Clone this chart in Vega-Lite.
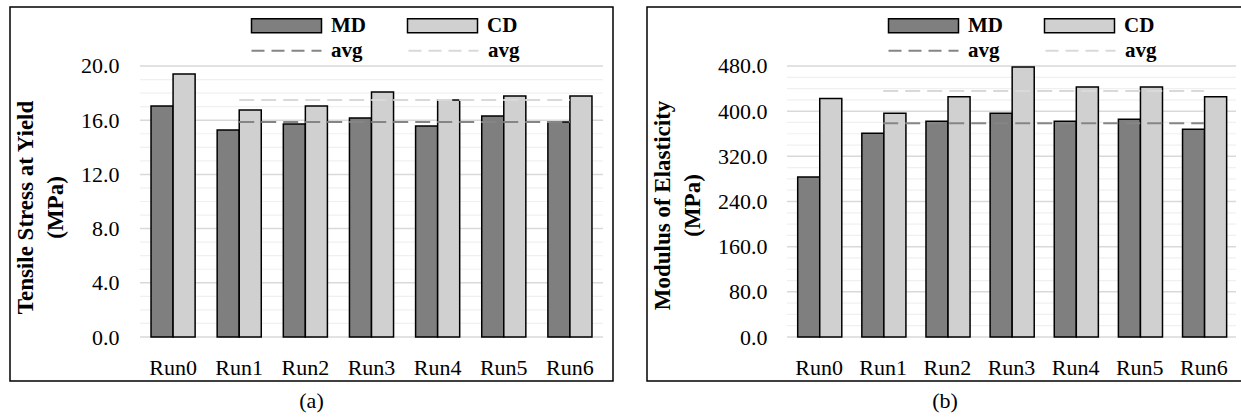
{
  "$schema": "https://vega.github.io/schema/vega-lite/v6.json",
  "padding": {"left": 9, "top": 6, "right": 0, "bottom": 0},
  "background": "white",
  "config": {
    "font": "Liberation Serif",
    "view": {"stroke": "black", "strokeWidth": 1.5, "fill": "white"},
    "concat": {"spacing": 32},
    "axis": {"labelFont": "Liberation Serif", "labelFontSize": 22, "labelColor": "black", "titleFont": "Liberation Serif", "titleFontSize": 23, "titleFontWeight": "bold", "titleColor": "black", "domain": false, "ticks": false, "tickSize": 0, "grid": false},
    "legend": {
      "title": null, "orient": "none", "direction": "horizontal", "padding": 0, "legendX": 266,
      "labelFont": "Liberation Serif", "labelFontSize": 21, "labelFontWeight": "bold", "labelColor": "black", "labelOffset": 34, "symbolSize": 196, "symbolOpacity": 1
    },
    "title": {"font": "Liberation Serif", "fontSize": 22, "fontWeight": "normal", "color": "black"}
  },
  "datasets": {
    "gridA": [
      {"value": 0, "kind": "major"}, {"value": 1, "kind": "minor"}, {"value": 2, "kind": "minor"}, {"value": 3, "kind": "minor"},
      {"value": 4, "kind": "major"}, {"value": 5, "kind": "minor"}, {"value": 6, "kind": "minor"}, {"value": 7, "kind": "minor"},
      {"value": 8, "kind": "major"}, {"value": 9, "kind": "minor"}, {"value": 10, "kind": "minor"}, {"value": 11, "kind": "minor"},
      {"value": 12, "kind": "major"}, {"value": 13, "kind": "minor"}, {"value": 14, "kind": "minor"}, {"value": 15, "kind": "minor"},
      {"value": 16, "kind": "major"}, {"value": 17, "kind": "minor"}, {"value": 18, "kind": "minor"}, {"value": 19, "kind": "minor"},
      {"value": 20, "kind": "major"}
    ],
    "gridB": [
      {"value": 0, "kind": "major"}, {"value": 20, "kind": "minor"}, {"value": 40, "kind": "minor"}, {"value": 60, "kind": "minor"},
      {"value": 80, "kind": "major"}, {"value": 100, "kind": "minor"}, {"value": 120, "kind": "minor"}, {"value": 140, "kind": "minor"},
      {"value": 160, "kind": "major"}, {"value": 180, "kind": "minor"}, {"value": 200, "kind": "minor"}, {"value": 220, "kind": "minor"},
      {"value": 240, "kind": "major"}, {"value": 260, "kind": "minor"}, {"value": 280, "kind": "minor"}, {"value": 300, "kind": "minor"},
      {"value": 320, "kind": "major"}, {"value": 340, "kind": "minor"}, {"value": 360, "kind": "minor"}, {"value": 380, "kind": "minor"},
      {"value": 400, "kind": "major"}, {"value": 420, "kind": "minor"}, {"value": 440, "kind": "minor"}, {"value": 460, "kind": "minor"},
      {"value": 480, "kind": "major"}
    ],
    "barsA": [
      {"run": "Run0", "series": "MD", "value": 17.05}, {"run": "Run0", "series": "CD", "value": 19.41},
      {"run": "Run1", "series": "MD", "value": 15.28}, {"run": "Run1", "series": "CD", "value": 16.75},
      {"run": "Run2", "series": "MD", "value": 15.72}, {"run": "Run2", "series": "CD", "value": 17.05},
      {"run": "Run3", "series": "MD", "value": 16.16}, {"run": "Run3", "series": "CD", "value": 18.08},
      {"run": "Run4", "series": "MD", "value": 15.57}, {"run": "Run4", "series": "CD", "value": 17.49},
      {"run": "Run5", "series": "MD", "value": 16.31}, {"run": "Run5", "series": "CD", "value": 17.79},
      {"run": "Run6", "series": "MD", "value": 15.87}, {"run": "Run6", "series": "CD", "value": 17.79}
    ],
    "avgA": [
      {"run": "Run1", "series": "MD avg", "value": 15.87}, {"run": "Run6", "series": "MD avg", "value": 15.87},
      {"run": "Run1", "series": "CD avg", "value": 17.49}, {"run": "Run6", "series": "CD avg", "value": 17.49}
    ],
    "barsB": [
      {"run": "Run0", "series": "MD", "value": 283.2}, {"run": "Run0", "series": "CD", "value": 422.5},
      {"run": "Run1", "series": "MD", "value": 360.9}, {"run": "Run1", "series": "CD", "value": 396.4},
      {"run": "Run2", "series": "MD", "value": 382.2}, {"run": "Run2", "series": "CD", "value": 425.5},
      {"run": "Run3", "series": "MD", "value": 396.4}, {"run": "Run3", "series": "CD", "value": 478.2},
      {"run": "Run4", "series": "MD", "value": 382.2}, {"run": "Run4", "series": "CD", "value": 442.7},
      {"run": "Run5", "series": "MD", "value": 385.8}, {"run": "Run5", "series": "CD", "value": 442.7},
      {"run": "Run6", "series": "MD", "value": 368.0}, {"run": "Run6", "series": "CD", "value": 425.5}
    ],
    "avgB": [
      {"run": "Run1", "series": "MD avg", "value": 378.7}, {"run": "Run6", "series": "MD avg", "value": 378.7},
      {"run": "Run1", "series": "CD avg", "value": 435.6}, {"run": "Run6", "series": "CD avg", "value": 435.6}
    ]
  },
  "resolve": {"scale": {"fill": "independent", "stroke": "independent"}, "legend": {"fill": "independent", "stroke": "independent"}},
  "hconcat": [
    {
      "width": 603, "height": 374,
      "title": {"text": "(a)", "orient": "bottom", "offset": 10, "anchor": "middle"},
      "encoding": {
        "y": {"field": "value", "type": "quantitative",
          "scale": {"domain": [-3.247, 24.354], "nice": false, "zero": false},
          "axis": {"values": [0, 4, 8, 12, 16, 20], "format": ".1f", "offset": -130, "labelPadding": 21,
            "title": ["Tensile Stress at Yield", "(MPa)"], "titlePadding": 13, "titleY": 200, "titleLineHeight": 30}}
      },
      "layer": [
        {
          "data": {"name": "gridA"},
          "mark": {"type": "rule"},
          "encoding": {
            "x": {"datum": 0, "type": "quantitative", "scale": {"domain": [-0.2808, 1.0216], "nice": false, "zero": false}, "axis": null},
            "x2": {"datum": 1},
            "color": {"condition": {"test": "datum.kind == 'major'", "value": "#d9d9d9"}, "value": "#f0f0f0"},
            "strokeWidth": {"condition": {"test": "datum.kind == 'major'", "value": 1.5}, "value": 1.2}
          }
        },
        {
          "encoding": {
            "x": {"field": "run", "type": "nominal",
              "scale": {"range": [130, 593], "paddingInner": 0.3333, "paddingOuter": 0.1667},
              "axis": {"offset": -44, "labelPadding": 20, "labelAngle": 0, "title": null}}
          },
          "layer": [
            {
              "data": {"name": "barsA"},
              "mark": {"type": "bar", "stroke": "black", "strokeWidth": 1.5},
              "encoding": {
                "y2": {"datum": 0},
                "xOffset": {"field": "series", "type": "nominal", "scale": {"domain": ["MD", "CD"], "paddingInner": 0, "paddingOuter": 0}},
                "fill": {"field": "series", "type": "nominal",
                  "scale": {"domain": ["MD", "CD"], "range": ["#7f7f7f", "#d0d0d0"]},
                  "legend": {"legendY": 8, "columnPadding": 38, "symbolType": "M-5,-1H5V1H-5Z", "symbolStrokeColor": "black", "symbolStrokeWidth": 1.5}}
              }
            },
            {
              "data": {"name": "avgA"},
              "mark": {"type": "line", "strokeDash": [15, 7], "strokeWidth": 2},
              "encoding": {
                "stroke": {"field": "series", "type": "nominal",
                  "scale": {"domain": ["MD avg", "CD avg"], "range": ["#858585", "#d9d9d9"]},
                  "legend": {"legendY": 33, "columnPadding": 41, "symbolType": "M-5,0H5", "symbolDash": [13, 7], "symbolStrokeWidth": 2, "labelExpr": "'avg'"}}
              }
            }
          ]
        }
      ],
      "resolve": {"scale": {"x": "independent"}}
    },
    {
      "width": 596, "height": 374,
      "title": {"text": "(b)", "orient": "bottom", "offset": 10, "anchor": "middle"},
      "encoding": {
        "y": {"field": "value", "type": "quantitative",
          "scale": {"domain": [-77.93, 584.5], "nice": false, "zero": false},
          "axis": {"values": [0, 80, 160, 240, 320, 400, 480], "format": ".1f", "offset": -140, "labelPadding": 20,
            "title": ["Modulus of Elasticity", "(MPa)"], "titlePadding": 13, "titleY": 198, "titleLineHeight": 30}}
      },
      "layer": [
        {
          "data": {"name": "gridB"},
          "mark": {"type": "rule"},
          "encoding": {
            "x": {"datum": 0, "type": "quantitative", "scale": {"domain": [-0.3118, 1.0156], "nice": false, "zero": false}, "axis": null},
            "x2": {"datum": 1},
            "color": {"condition": {"test": "datum.kind == 'major'", "value": "#d9d9d9"}, "value": "#f0f0f0"},
            "strokeWidth": {"condition": {"test": "datum.kind == 'major'", "value": 1.5}, "value": 1.2}
          }
        },
        {
          "encoding": {
            "x": {"field": "run", "type": "nominal",
              "scale": {"range": [140, 589], "paddingInner": 0.3333, "paddingOuter": 0.1667},
              "axis": {"offset": -44, "labelPadding": 20, "labelAngle": 0, "title": null}}
          },
          "layer": [
            {
              "data": {"name": "barsB"},
              "mark": {"type": "bar", "stroke": "black", "strokeWidth": 1.5},
              "encoding": {
                "y2": {"datum": 0},
                "xOffset": {"field": "series", "type": "nominal", "scale": {"domain": ["MD", "CD"], "paddingInner": 0, "paddingOuter": 0}},
                "fill": {"field": "series", "type": "nominal",
                  "scale": {"domain": ["MD", "CD"], "range": ["#7f7f7f", "#d0d0d0"]},
                  "legend": {"legendY": 8, "columnPadding": 38, "symbolType": "M-5,-1H5V1H-5Z", "symbolStrokeColor": "black", "symbolStrokeWidth": 1.5}}
              }
            },
            {
              "data": {"name": "avgB"},
              "mark": {"type": "line", "strokeDash": [15, 7], "strokeWidth": 2},
              "encoding": {
                "stroke": {"field": "series", "type": "nominal",
                  "scale": {"domain": ["MD avg", "CD avg"], "range": ["#858585", "#d9d9d9"]},
                  "legend": {"legendY": 33, "columnPadding": 41, "symbolType": "M-5,0H5", "symbolDash": [13, 7], "symbolStrokeWidth": 2, "labelExpr": "'avg'"}}
              }
            }
          ]
        }
      ],
      "resolve": {"scale": {"x": "independent"}}
    }
  ]
}
